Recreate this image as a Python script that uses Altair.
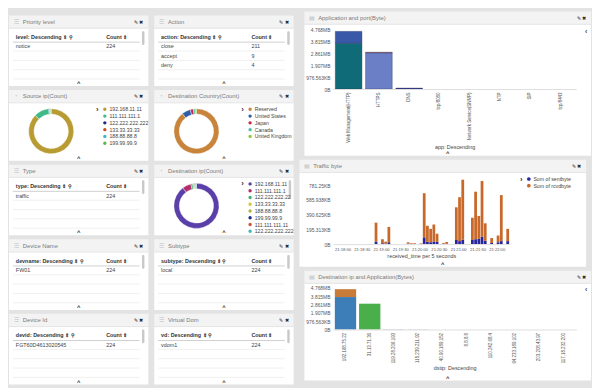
import altair as alt
import pandas as pd

FONT = "Liberation Sans"
BG = "#e3e3e3"
HEAD = "#f3f3f3"
HH = 13

# ---------------- data ----------------
priority_keys = ["notice"]
priority_counts = [224]
action_keys = ["close", "accept", "deny"]
action_counts = [211, 9, 4]
type_keys = ["traffic"]
type_counts = [224]
devname_keys = ["FW01"]
devname_counts = [224]
subtype_keys = ["local"]
subtype_counts = [224]
devid_keys = ["FGT60D4613020545"]
devid_counts = [224]
vd_keys = ["vdom1"]
vd_counts = [224]

srcip_labels = ["192.168.11.11", "111.111.111.1", "122.222.222.222", "133.33.33.33", "188.88.88.8", "199.99.99.9"]
srcip_counts = [196, 24, 1, 1, 1, 1]
srcip_colors = ["#b89c33", "#3dba88", "#25258c", "#c4502a", "#3fb3c9", "#5cb84a"]

country_labels = ["Reserved", "United States", "Japan", "Canada", "United Kingdom"]
country_counts = [200, 14, 5, 3, 2]
country_colors = ["#c8843a", "#2d5fab", "#c72a3e", "#45c0a6", "#8dc640"]

dstip_labels = ["192.168.11.11", "111.111.111.1", "122.222.222.22", "133.33.33.33",
                "188.88.88.8", "199.99.99.9", "111.111.111.11", "122.222.222.222"]
dstip_counts = [201, 14, 3, 2, 1, 1, 1, 1]
dstip_colors = ["#5b3fa8", "#b02f6a", "#3cb46c", "#d2c83c", "#b4b13a", "#1e2a8c", "#d1552c", "#3cb7b9"]

app_names = ["Web Management(HTTP)", "HTTPS", "DNS", "tcp/8080", "Network Service(SNMP)", "NTP", "SIP", "tcp/8443"]
app_seg_app = ["Web Management(HTTP)", "Web Management(HTTP)", "HTTPS", "HTTPS", "DNS"]
app_seg_port = ["80", "8080", "443", "8443", "53"]
app_seg_bytes = [3880000, 1000000, 3070000, 45000, 80000]
app_port_colors = ["#0f6b78", "#3a58a8", "#6b7fc6", "#e0523c", "#2a2a8c"]

traffic_times = ["21:18:50", "21:19:00", "21:19:05", "21:19:10", "21:19:40", "21:19:45", "21:19:50",
                 "21:20:00", "21:20:05", "21:20:10", "21:20:15", "21:20:20", "21:20:25", "21:20:35",
                 "21:20:40", "21:20:55", "21:21:00", "21:21:05", "21:21:20", "21:21:25", "21:21:30",
                 "21:21:35", "21:21:40", "21:21:50", "21:22:00", "21:22:05", "21:22:15"]
traffic_sent_kb = [35, 12, 8, 25, 5, 3, 3, 3, 90, 30, 25, 35, 30, 5, 5, 55, 40, 60, 55, 65, 70, 100, 45, 15, 25, 40, 40]
traffic_rcvd_kb = [250, 53, 25, 203, 19, 9, 9, 7, 585, 214, 178, 225, 108, 11, 23, 433, 582, 794, 295, 630, 304,
                   737, 231, 66, 89, 610, 163]
traffic_series = ["Sum of sentbyte", "Sum of rcvdbyte"]
traffic_colors = ["#27279a", "#c8692a"]
traffic_ticks = ["21:18:00", "21:18:30", "21:19:00", "21:19:30", "21:20:00", "21:20:30", "21:21:00", "21:21:30", "21:22:00"]

dstapp_ips = ["192.168.75.22", "31.13.71.36", "119.28.206.193", "115.239.211.92", "40.90.189.152",
              "8.8.8.8", "110.242.68.4", "64.233.189.102", "203.208.43.97", "117.18.232.200"]
dstapp_seg_ip = ["192.168.75.22", "192.168.75.22", "31.13.71.36", "119.28.206.193", "115.239.211.92"]
dstapp_seg_app = ["Web Management(HTTP)", "HTTP", "HTTPS", "DNS", "NTP"]
dstapp_seg_bytes = [3910000, 950000, 3110000, 50000, 40000]
dstapp_colors = ["#3d7db8", "#c97c3a", "#4aae4a", "#aeb0c8", "#b9b9b9"]

DAY = "2017-05-01T"

BYTES_EXPR = ("datum.value == 0 ? '0B' : (datum.value < 1048576 ? format(datum.value / 1024, '.3~f') + 'KB'"
              " : format(datum.value / 1048576, '.3~f') + 'MB')")


# ---------------- helpers ----------------
def frame(W, H, L, R, T, B, title, icon):
    base = alt.Chart(pd.DataFrame({"k": [0]}))
    x0, x1 = -L, W + R
    ytop = -T - HH
    ym = ytop + HH / 2
    return [
        base.mark_rect(color=HEAD).encode(x=alt.value(x0), x2=alt.value(x1), y=alt.value(ytop), y2=alt.value(-T)),
        base.mark_rect(color="white").encode(x=alt.value(x0), x2=alt.value(x1), y=alt.value(-T), y2=alt.value(H + B)),
        base.mark_rule(color="#e4e4e4").encode(x=alt.value(x0), x2=alt.value(x1), y=alt.value(-T)),
        base.mark_text(text=icon, align="left", baseline="middle", fontSize=6, color="#bdbdbd").encode(
            x=alt.value(x0 + 5), y=alt.value(ym)),
        base.mark_text(text=title, align="left", baseline="middle", fontSize=6, color="#7a7a7a").encode(
            x=alt.value(x0 + 14), y=alt.value(ym)),
        base.mark_text(text="✎ ✖", align="right", baseline="middle", fontSize=5.5, color="#222").encode(
            x=alt.value(x1 - 5), y=alt.value(ym)),
        base.mark_text(text="^", align="center", baseline="middle", fontSize=6, fontWeight="bold", color="#333").encode(
            x=alt.value((x0 + x1) / 2), y=alt.value(H + B - 3)),
    ]


def table_panel(title, field, keys, counts):
    W, H = 142, 59
    ysc = alt.Scale(domain=[0, 4], range=[9, 47])
    hdr = pd.DataFrame({"row": [0], "key": [f"{field}: Descending ⇕ ⚲"], "cnt": ["Count ⇕"]})
    rows = pd.DataFrame({"row": list(range(1, len(keys) + 1)), "key": keys, "cnt": [str(c) for c in counts]})
    lines = pd.DataFrame({"pos": [1.5, 2.5, 3.5, 4.5]})
    hline = pd.DataFrame({"pos": [0.55]})

    def txt(df, bold):
        w = "bold" if bold else "normal"
        c = "#333333" if bold else "#444444"
        a = alt.Chart(df).mark_text(align="left", baseline="middle", fontSize=5.5, fontWeight=w, color=c).encode(
            x=alt.value(7), y=alt.Y("row:Q", scale=ysc, axis=None), text="key:N")
        b = alt.Chart(df).mark_text(align="left", baseline="middle", fontSize=5.5, fontWeight=w, color=c).encode(
            x=alt.value(99), y=alt.Y("row:Q", scale=ysc, axis=None), text="cnt:N")
        return [a, b]

    rules = alt.Chart(lines).mark_rule(color="#ececec", strokeWidth=0.8).encode(
        x=alt.value(4), x2=alt.value(W - 9), y=alt.Y("pos:Q", scale=ysc, axis=None))
    hrule = alt.Chart(hline).mark_rule(color="#cfcfcf", strokeWidth=1).encode(
        x=alt.value(4), x2=alt.value(W - 9), y=alt.Y("pos:Q", scale=ysc, axis=None))
    scroll = alt.Chart(pd.DataFrame({"k": [0]})).mark_rect(color="#c9c9c9", cornerRadius=1.3).encode(
        x=alt.value(W - 6.5), x2=alt.value(W - 4), y=alt.value(3), y2=alt.value(17))
    return alt.layer(*frame(W, H, 0, 0, 0, 0, title, "☰"), rules, hrule, *txt(hdr, True), *txt(rows, False),
                     scroll).properties(width=W, height=H)


def donut_panel(title, fname, labels, counts, colors, scroll=False):
    W, H = 142, 59
    df = pd.DataFrame({fname: labels, "cnt": counts, "ord": list(range(len(labels)))})
    arc = alt.Chart(df).mark_arc(radius=23, radius2=17.5, stroke="white", strokeWidth=0.4).encode(
        theta=alt.Theta("cnt:Q"),
        color=alt.Color(f"{fname}:N", scale=alt.Scale(domain=labels, range=colors),
                        legend=alt.Legend(title=None, orient="none", legendX=95, legendY=4, labelFontSize=5.3,
                                          symbolSize=12, symbolType="circle", rowPadding=0.9, padding=0,
                                          labelColor="#444444", symbolStrokeWidth=0, labelLimit=42, labelOffset=2)),
        order=alt.Order("ord:Q"),
        x=alt.value(43), y=alt.value(29))
    base = alt.Chart(pd.DataFrame({"k": [0]}))
    tog = base.mark_text(text="›", align="center", baseline="middle", fontSize=8, fontWeight="bold", color="#333").encode(
        x=alt.value(90), y=alt.value(7))
    layers = [*frame(W, H, 0, 0, 0, 0, title, "◔"), arc, tog]
    if scroll:
        layers.append(base.mark_rect(color="#c9c9c9", cornerRadius=1.3).encode(
            x=alt.value(W - 5), x2=alt.value(W - 2.5), y=alt.value(3), y2=alt.value(22)))
    return alt.layer(*layers).properties(width=W, height=H)


def axis_x(title, limit):
    return alt.Axis(title=title, labelAngle=-90, labelFontSize=4.5, labelColor="#555555", ticks=False,
                    domainColor="#dddddd", titleFontSize=5.5, titleFontWeight="normal", titleColor="#444444",
                    titlePadding=2, labelPadding=3, labelLimit=limit, zindex=2)


def axis_y(values):
    return alt.Axis(title=None, values=values, labelExpr=BYTES_EXPR, grid=False, domain=False, ticks=False,
                    labelFontSize=5, labelColor="#555555", labelPadding=3, zindex=2)


# ---------------- Application and port ----------------
def app_panel():
    W, H, L, R, T, B = 248, 62, 29, 15, 4, 68
    df = pd.DataFrame({"app": app_seg_app, "port": app_seg_port, "bytes": app_seg_bytes,
                       "ord": list(range(len(app_seg_app)))})
    bars = alt.Chart(df).mark_bar(stroke="#1d2b55", strokeWidth=0.6, strokeOpacity=0.6).encode(
        x=alt.X("app:N", scale=alt.Scale(domain=app_names, paddingInner=0.12, paddingOuter=0.08),
                axis=axis_x("app: Descending", 52)),
        y=alt.Y("sum(bytes):Q", stack="zero", scale=alt.Scale(domain=[0, 5150000], nice=False),
                axis=axis_y([0, 1000000, 2000000, 3000000, 4000000, 5000000])),
        color=alt.Color("port:N", scale=alt.Scale(domain=app_seg_port, range=app_port_colors), legend=None),
        order=alt.Order("ord:Q"))
    tog = alt.Chart(pd.DataFrame({"k": [0]})).mark_text(text="‹", fontSize=7, fontWeight="bold", color="#444").encode(
        x=alt.value(W + R - 5), y=alt.value(4))
    return alt.layer(*frame(W, H, L, R, T, B, "Application and port(Byte)", "▤"), bars, tog).properties(
        width=W, height=H)


# ---------------- Traffic byte ----------------
def traffic_panel():
    W, H, L, R, T, B = 180, 68, 34, 78, 5, 23
    recs = []
    for i, t in enumerate(traffic_times):
        start = pd.Timestamp(DAY + t)
        s = traffic_sent_kb[i] * 1024
        r = traffic_rcvd_kb[i] * 1024
        end = (start + pd.Timedelta(seconds=4.3)).isoformat()
        recs.append({"t": start.isoformat(), "t2": end, "series": traffic_series[0], "lo": 0, "hi": s, "ord": 0})
        recs.append({"t": start.isoformat(), "t2": end, "series": traffic_series[1], "lo": s, "hi": s + r, "ord": 1})
    df = pd.DataFrame(recs)
    ticks = [alt.DateTime(year=2017, month=5, date=1, hours=int(v[0:2]), minutes=int(v[3:5]), seconds=int(v[6:8]))
             for v in traffic_ticks]
    dom = [alt.DateTime(year=2017, month=5, date=1, hours=21, minutes=17, seconds=45),
           alt.DateTime(year=2017, month=5, date=1, hours=21, minutes=22, seconds=20)]
    bars = alt.Chart(df).mark_bar().encode(
        x=alt.X("t:T", scale=alt.Scale(domain=dom),
                axis=alt.Axis(title="received_time per 5 seconds", values=ticks, format="%H:%M:%S", labelAngle=0,
                              labelFontSize=4.2, labelColor="#555555", ticks=False, domainColor="#dddddd",
                              titleFontSize=5.5, titleFontWeight="normal", titleColor="#444444", titlePadding=2,
                              labelPadding=3, grid=False, zindex=2, labelOverlap=False)),
        x2="t2:T",
        y=alt.Y("lo:Q", scale=alt.Scale(domain=[0, 906000], nice=False),
                axis=axis_y([0, 200000, 400000, 600000, 800000])),
        y2="hi:Q",
        color=alt.Color("series:N", scale=alt.Scale(domain=traffic_series, range=traffic_colors),
                        legend=alt.Legend(title=None, orient="none", legendX=W + 17, legendY=-1, labelFontSize=5.3,
                                          symbolSize=14, symbolType="circle", rowPadding=0.8, padding=0,
                                          labelColor="#444444", symbolStrokeWidth=0, labelOffset=2, zindex=2)),
        order=alt.Order("ord:Q"))
    tog = alt.Chart(pd.DataFrame({"k": [0]})).mark_text(text="›", fontSize=8, fontWeight="bold", color="#333").encode(
        x=alt.value(W + 12), y=alt.value(3))
    return alt.layer(*frame(W, H, L, R, T, B, "Traffic byte", "▤"), bars, tog).properties(width=W, height=H)


# ---------------- Destination ip and Application ----------------
def dstapp_panel():
    W, H, L, R, T, B = 248, 44, 29, 15, 3, 52
    df = pd.DataFrame({"dstip": dstapp_seg_ip, "svc": dstapp_seg_app, "bytes": dstapp_seg_bytes,
                       "ord": list(range(len(dstapp_seg_ip)))})
    bars = alt.Chart(df).mark_bar().encode(
        x=alt.X("dstip:N", scale=alt.Scale(domain=dstapp_ips, paddingInner=0.12, paddingOuter=0.08),
                axis=axis_x("dstip: Descending", 56)),
        y=alt.Y("sum(bytes):Q", stack="zero", scale=alt.Scale(domain=[0, 5200000], nice=False),
                axis=axis_y([0, 1000000, 2000000, 3000000, 4000000, 5000000])),
        color=alt.Color("svc:N", scale=alt.Scale(domain=dstapp_seg_app, range=dstapp_colors), legend=None),
        order=alt.Order("ord:Q"))
    tog = alt.Chart(pd.DataFrame({"k": [0]})).mark_text(text="‹", fontSize=7, fontWeight="bold", color="#444").encode(
        x=alt.value(W + R - 5), y=alt.value(4))
    return alt.layer(*frame(W, H, L, R, T, B, "Destination ip and Application(Bytes)", "▤"), bars, tog).properties(
        width=W, height=H)


def vcol(*charts):
    return alt.vconcat(*charts, spacing=4).resolve_scale(
        color="independent", x="independent", y="independent", theta="independent").resolve_legend(color="independent")


col1 = vcol(
    table_panel("Priority level", "level", priority_keys, priority_counts),
    donut_panel("Source ip(Count)", "srcip", srcip_labels, srcip_counts, srcip_colors),
    table_panel("Type", "type", type_keys, type_counts),
    table_panel("Device Name", "devname", devname_keys, devname_counts),
    table_panel("Device Id", "devid", devid_keys, devid_counts),
)
col2 = vcol(
    table_panel("Action", "action", action_keys, action_counts),
    donut_panel("Destination Country(Count)", "country", country_labels, country_counts, country_colors),
    donut_panel("Destination ip(Count)", "dstip", dstip_labels, dstip_counts, dstip_colors, scroll=True),
    table_panel("Subtype", "subtype", subtype_keys, subtype_counts),
    table_panel("Virtual Dom", "vd", vd_keys, vd_counts),
)
col3 = vcol(app_panel(), traffic_panel(), dstapp_panel())

chart = alt.hconcat(col1, col2, col3, spacing=4).resolve_scale(
    color="independent", x="independent", y="independent", theta="independent"
).resolve_legend(color="independent").properties(padding=0).configure(
    background=BG, font=FONT, padding=0
).configure_view(stroke=None).configure_text(font=FONT).configure_axis(
    labelFont=FONT, titleFont=FONT
).configure_legend(labelFont=FONT)

chart.save("out.html", embed_options={"renderer": "svg", "actions": False})
